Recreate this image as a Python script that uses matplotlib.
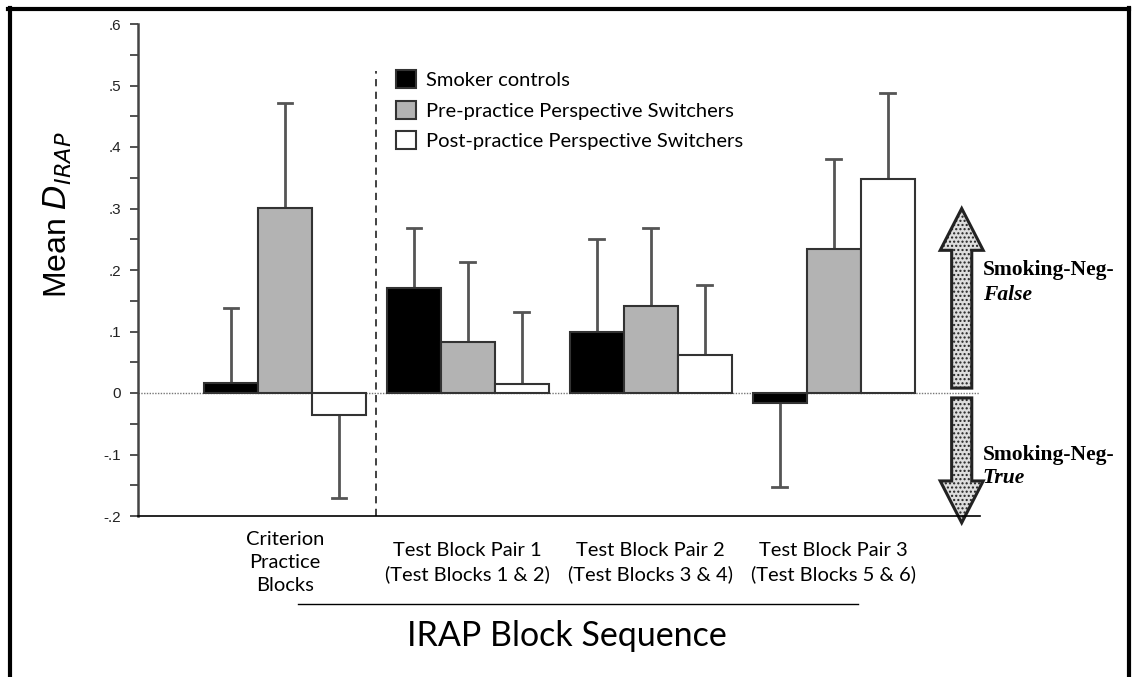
import matplotlib.pyplot as plt
from matplotlib.lines import Line2D
from matplotlib.patches import FancyArrow, Rectangle

# mean D-IRAP per block pair and group, with one-sided error bars
blocks = ["Criterion\nPractice\nBlocks",
          "Test Block Pair 1\n(Test Blocks 1 & 2)",
          "Test Block Pair 2\n(Test Blocks 3 & 4)",
          "Test Block Pair 3\n(Test Blocks 5 & 6)"]
groups = ["Smoker controls",
          "Pre-practice Perspective Switchers",
          "Post-practice Perspective Switchers"]
smokers = [0.017, 0.171, 0.099, -0.016]
pre_switch = [0.301, 0.083, 0.141, 0.234]
post_switch = [-0.036, 0.014, 0.062, 0.348]
smokers_err = [0.121, 0.097, 0.151, 0.137]
pre_switch_err = [0.171, 0.130, 0.127, 0.146]
post_switch_err = [0.135, 0.118, 0.114, 0.140]

means = [smokers, pre_switch, post_switch]
errs = [smokers_err, pre_switch_err, post_switch_err]
fills = ["black", "#b3b3b3", "white"]

fig = plt.figure(figsize=(11.32, 6.77), dpi=100)
ax = fig.add_axes([138 / 1132, 1 - 516 / 677, (980 - 138) / 1132, (516 - 24) / 677])

width = 0.295
for g in range(3):
    for i in range(len(blocks)):
        x = i + (g - 1) * width
        v = means[g][i]
        ax.bar(x, v, width, color=fills[g], edgecolor="#333333", linewidth=1.5, zorder=3)
        # error bar drawn only away from zero
        e = errs[g][i] if v >= 0 else -errs[g][i]
        ax.plot([x, x], [v, v + e], color="#555555", lw=2, zorder=2, solid_capstyle="butt")
        ax.plot([x - 0.04, x + 0.04], [v + e, v + e], color="#555555", lw=2, zorder=2)

ax.set_xlim(-0.803, 3.80)
ax.set_ylim(-0.2, 0.6)
ax.axhline(0, color="#777777", lw=1, ls=(0, (1, 1)), zorder=1)
ax.plot([0.5, 0.5], [-0.2, 0.524], color="#333333", lw=1.3, ls=(0, (4, 3)), zorder=1)

for side in ["top", "right"]:
    ax.spines[side].set_visible(False)
ax.spines["left"].set_linewidth(1.8)
ax.spines["left"].set_color("#444444")
ax.spines["bottom"].set_linewidth(1.2)
ax.set_xticks([])
ax.set_yticks([-0.2, -0.1, 0, 0.1, 0.2, 0.3, 0.4, 0.5, 0.6])
ax.set_yticks([-0.15, -0.05, 0.05, 0.15, 0.25, 0.35, 0.45, 0.55], minor=True)
ax.set_yticklabels(["-.2", "-.1", "0", ".1", ".2", ".3", ".4", ".5", ".6"],
                   fontsize=11, fontfamily="Liberation Sans", color="#222222")
ax.tick_params(axis="y", which="both", direction="out", length=6, width=1.3,
               color="#444444", pad=6)

# category labels under the axis
for i, lab in enumerate(blocks):
    ax.text(i, -0.275, lab, ha="center", va="center", fontsize=14.5,
            fontfamily="Lato", linespacing=1.42)

fig.add_artist(Line2D([298 / 1132, 858 / 1132], [1 - 604 / 677] * 2,
                      color="black", lw=1))
fig.text(567 / 1132, 1 - 636 / 677, "IRAP Block Sequence", ha="center",
         va="center", fontsize=24.5, fontfamily="Lato")
fig.text(58 / 1132, 1 - 215 / 677, r"Mean $D_{IRAP}$", rotation=90, ha="center",
         va="center", fontsize=23, fontfamily="Liberation Sans")

# legend
handles = [Rectangle((0, 0), 1, 1, facecolor=c, edgecolor="#333333", lw=1.5)
           for c in fills]
fig.legend(handles, groups, loc="upper left", bbox_to_anchor=(396 / 1132, 1 - 70 / 677),
           frameon=False, prop={"family": "Lato", "size": 14.5},
           handlelength=1.0, handleheight=1.0, handletextpad=0.5, labelspacing=0.58,
           borderaxespad=0, borderpad=0)

# stippled arrows on the right
for y0, dy in [(0.008, 0.292), (-0.008, -0.203)]:
    ax.add_patch(FancyArrow(3.70, y0, 0, dy, width=0.11, head_width=0.235,
                            head_length=0.068, length_includes_head=True,
                            facecolor="#dddddd", edgecolor="#222222", lw=2.2,
                            hatch="....", clip_on=False))
serif = {"family": "Liberation Serif", "weight": "bold", "size": 15.5}
ax.text(3.815, 0.2, "Smoking-Neg-", ha="left", va="center", fontdict=serif)
ax.text(3.815, 0.159, "False", ha="left", va="center", fontdict=serif, style="italic")
ax.text(3.815, -0.101, "Smoking-Neg-", ha="left", va="center", fontdict=serif)
ax.text(3.815, -0.138, "True", ha="left", va="center", fontdict=serif, style="italic")

# frame round the figure (open at the bottom)
for xs, ys in [([10, 10], [8, 677]), ([8, 1129], [9, 9]), ([1129, 1129], [8, 677])]:
    fig.add_artist(Line2D([x / 1132 for x in xs], [1 - y / 677 for y in ys],
                          color="black", lw=3))

fig.savefig("out.png", dpi=100)
